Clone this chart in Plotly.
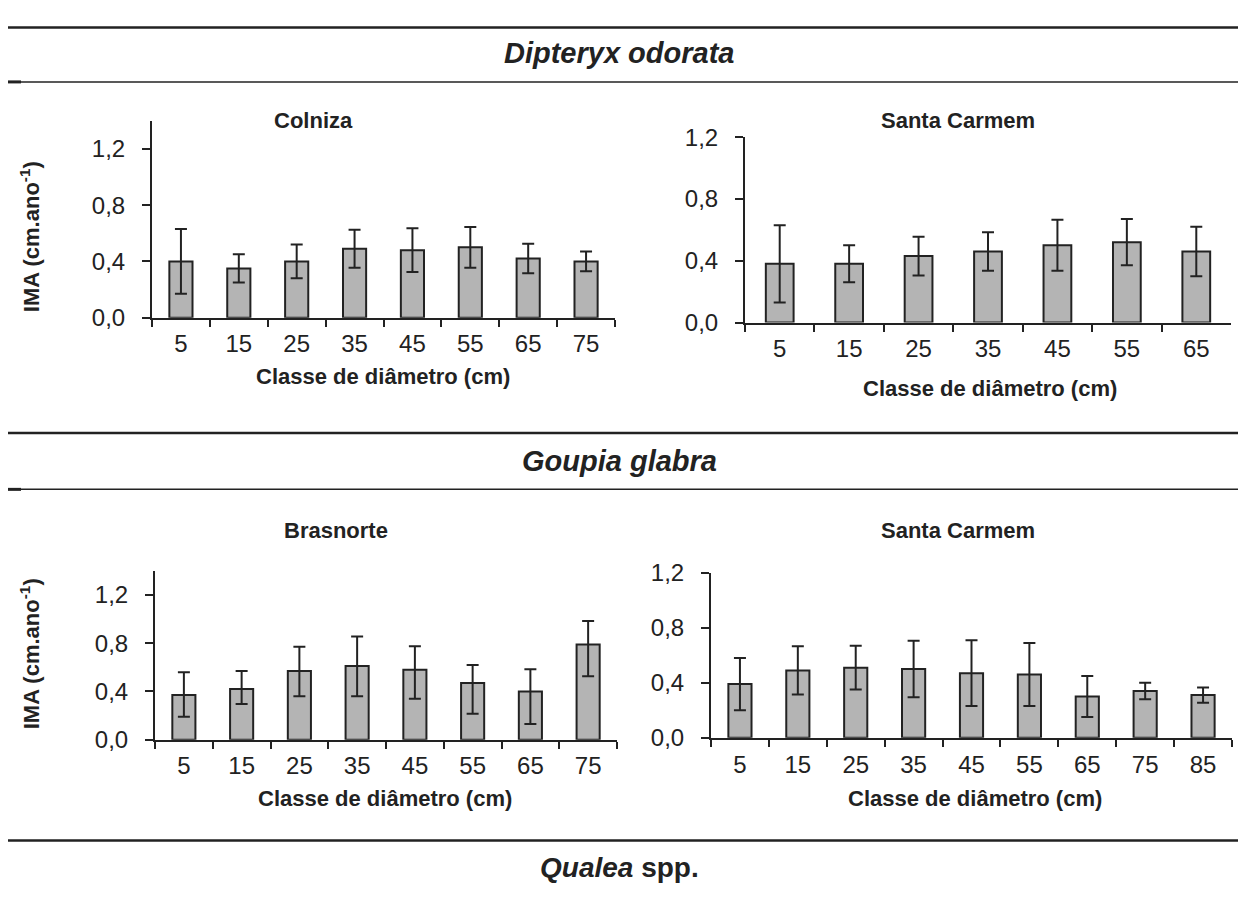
import plotly.graph_objects as go

# ---- data: mean annual increment (IMA, cm/yr) by diameter class ----
colniza_classes = ["5", "15", "25", "35", "45", "55", "65", "75"]
colniza_ima = [0.40, 0.35, 0.40, 0.49, 0.48, 0.50, 0.42, 0.40]
colniza_err = [0.23, 0.10, 0.12, 0.135, 0.155, 0.145, 0.105, 0.07]

dip_sc_classes = ["5", "15", "25", "35", "45", "55", "65"]
dip_sc_ima = [0.38, 0.38, 0.43, 0.46, 0.50, 0.52, 0.46]
dip_sc_err = [0.25, 0.12, 0.125, 0.125, 0.165, 0.15, 0.16]

brasnorte_classes = ["5", "15", "25", "35", "45", "55", "65", "75"]
brasnorte_ima = [0.37, 0.42, 0.57, 0.61, 0.58, 0.47, 0.40, 0.79]
brasnorte_err_plus = [0.19, 0.15, 0.20, 0.245, 0.195, 0.15, 0.185, 0.195]
brasnorte_err_minus = [0.18, 0.125, 0.21, 0.25, 0.24, 0.255, 0.27, 0.265]

gou_sc_classes = ["5", "15", "25", "35", "45", "55", "65", "75", "85"]
gou_sc_ima = [0.39, 0.49, 0.51, 0.50, 0.47, 0.46, 0.30, 0.34, 0.31]
gou_sc_err = [0.19, 0.175, 0.16, 0.205, 0.24, 0.23, 0.15, 0.06, 0.055]

y_tickvals = [0.0, 0.4, 0.8, 1.2]
y_ticktext = ["0,0", "0,4", "0,8", "1,2"]

species = ["Dipteryx odorata", "Goupia glabra", "Qualea"]
sites = ["Colniza", "Santa Carmem", "Brasnorte", "Santa Carmem"]
x_title = "Classe de diâmetro (cm)"
y_title = "IMA (cm.ano<sup>-1</sup>)"

# ---- page geometry (pixels) ----
W, H = 1238, 904
FONT = "Liberation Sans, Arial, sans-serif"
INK = "#222222"
BAR_FILL = "#b4b4b4"
TICK_SIZE = 24
TITLE_SIZE = 22


def px(x):
    return x / W


def py(y):
    return 1 - y / H


fig = go.Figure()

panels = [
    # classes, values, err+, err-, x-range px, (top px, zero px), y max
    (colniza_classes, colniza_ima, colniza_err, colniza_err, (152, 615), (110, 313), 1.4),
    (dip_sc_classes, dip_sc_ima, dip_sc_err, dip_sc_err, (745, 1231), (127, 318), 1.2),
    (brasnorte_classes, brasnorte_ima, brasnorte_err_plus, brasnorte_err_minus, (155, 617), (574, 748), 1.4),
    (gou_sc_classes, gou_sc_ima, gou_sc_err, gou_sc_err, (711, 1232), (576, 746), 1.2),
]

for i, (cls, vals, ep, em, (x0, x1), (ytop, yzero), ymax) in enumerate(panels, start=1):
    xa = "x" if i == 1 else f"x{i}"
    ya = "y" if i == 1 else f"y{i}"
    fig.add_trace(go.Bar(
        x=cls, y=vals, xaxis=xa, yaxis=ya,
        marker=dict(color=BAR_FILL, line=dict(color=INK, width=2)),
        error_y=dict(type="data", array=ep, arrayminus=em, symmetric=False,
                     color=INK, thickness=2, width=6),
        showlegend=False, hoverinfo="skip",
    ))
    xkey = "xaxis" if i == 1 else f"xaxis{i}"
    ykey = "yaxis" if i == 1 else f"yaxis{i}"
    fig.update_layout(**{
        xkey: dict(
            domain=[px(x0), px(x1)], anchor=ya, type="category",
            tickson="boundaries", ticks="outside", ticklen=7, tickwidth=2,
            tickcolor=INK, showline=True, linecolor=INK, linewidth=2,
            showgrid=False, zeroline=False, ticklabelstandoff=4,
            tickfont=dict(family=FONT, size=TICK_SIZE, color=INK),
        ),
        ykey: dict(
            domain=[py(yzero), py(ytop)], anchor=xa, range=[0, ymax],
            tickvals=y_tickvals, ticktext=y_ticktext,
            ticks="outside", ticklen=8, tickwidth=2, tickcolor=INK,
            showline=True, linecolor=INK, linewidth=2,
            showgrid=False, zeroline=False, ticklabelstandoff=12,
            tickfont=dict(family=FONT, size=TICK_SIZE, color=INK),
        ),
    })

annotations = []


def label(text, x, y, size, angle=0):
    annotations.append(dict(
        text=text, x=px(x), y=py(y), xref="paper", yref="paper",
        showarrow=False, xanchor="center", yanchor="middle",
        textangle=angle, font=dict(family=FONT, size=size, color=INK),
    ))


# species headings
label(f"<b><i>{species[0]}</i></b>", 619, 40, 29)
label(f"<b><i>{species[1]}</i></b>", 619, 461, 29)
label(f"<b><i>{species[2]}</i> spp.</b>", 619, 880, 28)

# site titles
label(f"<b>{sites[0]}</b>", 313, 110, TITLE_SIZE)
label(f"<b>{sites[1]}</b>", 958, 110, TITLE_SIZE)
label(f"<b>{sites[2]}</b>", 336, 532, TITLE_SIZE)
label(f"<b>{sites[3]}</b>", 958, 532, TITLE_SIZE)

# axis titles
label(f"<b>{x_title}</b>", 383, 374, TITLE_SIZE)
label(f"<b>{x_title}</b>", 990, 386, TITLE_SIZE)
label(f"<b>{x_title}</b>", 385, 809, TITLE_SIZE)
label(f"<b>{x_title}</b>", 975, 809, TITLE_SIZE)
label(f"<b>{y_title}</b>", 30, 230, TITLE_SIZE, -90)
label(f"<b>{y_title}</b>", 30, 660, TITLE_SIZE, -90)

# horizontal rules separating the species blocks
shapes = []


def rule(y, width, x0=8, x1=1238):
    shapes.append(dict(type="line", xref="paper", yref="paper",
                       x0=px(x0), x1=px(x1), y0=py(y), y1=py(y),
                       line=dict(color=INK, width=width)))


rule(14, 2.5)
rule(70, 1.5)
rule(70, 3, 8, 21)
rule(432, 2.5)
rule(490, 1.5)
rule(490, 3, 8, 21)
rule(852, 2.5)

fig.update_layout(
    width=W, height=H,
    margin=dict(l=0, r=0, t=0, b=0),
    paper_bgcolor="white", plot_bgcolor="white",
    bargap=0.6,
    annotations=annotations, shapes=shapes,
    font=dict(family=FONT, color=INK),
)

fig.write_html("out.html", config={"displayModeBar": False})
